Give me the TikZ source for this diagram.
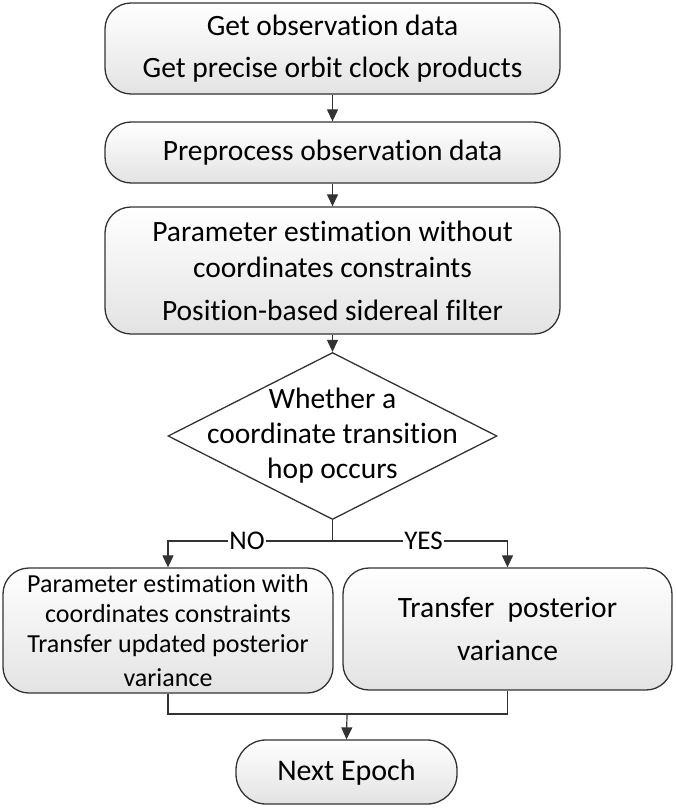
\documentclass[tikz,border=0pt]{standalone}
\usepackage{fontspec}
\setmainfont{Carlito}[Ligatures={NoCommon}]
\usetikzlibrary{shapes.geometric,arrows.meta}
\begin{document}
\begin{tikzpicture}[x=1pt,y=-1pt,
  box/.style={draw=black!80, line width=1.3pt, rounded corners=26pt, top color=white, bottom color=black!11,
    align=center, inner sep=0pt, font=\fontsize{29.5}{36}\selectfont},
  ln/.style={draw=black!80, line width=1.2pt},
  arr/.style={ln, -{Triangle[length=12pt,width=11pt]}},
  lab/.style={fill=white, inner sep=1pt, font=\fontsize{27}{30}\selectfont}]
\useasboundingbox (0,0) rectangle (675,811);
\node[box, minimum width=455pt, minimum height=91pt] (b1) at (332.5,48.5)
  {Get observation data\\[6pt]Get precise orbit clock products};
\node[box, minimum width=455pt, minimum height=61pt] (b2) at (332.5,152.5)
  {Preprocess observation data};
\node[box, minimum width=455pt, minimum height=127pt] (b3) at (332.5,270.5)
  {Parameter estimation without\\coordinates constraints\\[7pt]Position-based sidereal filter};
\node[draw=black!80, line width=1.3pt, fill=white, diamond, inner sep=0pt,
  minimum width=329pt, minimum height=167pt] (dec) at (332.5,436) {};
\node[align=center, font=\fontsize{29.5}{35}\selectfont] (dect) at (dec) {Whether a\\coordinate transition\\hop occurs};
\node[box, minimum width=330pt, minimum height=125pt, font=\fontsize{26}{30}\selectfont] (lb) at (168,630.5)
  {Parameter estimation with\\coordinates constraints\\Transfer updated posterior\\[4pt]variance};
\node[box, minimum width=329pt, minimum height=122pt] (rb) at (507.5,629)
  {Transfer\ \ posterior\\[7pt]variance};
\node[box, rounded corners=30pt, minimum width=221pt, minimum height=64pt, font=\fontsize{30}{36}\selectfont] (nx) at (346.5,772)
  {Next Epoch};
\coordinate (j1) at (332.5,541);
\coordinate (j2) at (347,714);
\draw[arr] (b1) -- (b2);
\draw[arr] (b2) -- (b3);
\draw[arr] (b3) -- (dec.north);
\draw[ln] (dec.south) -- (j1);
\draw[arr] (j1) -| node[lab, pos=0.26] {NO} (lb.north);
\draw[arr] (j1) -| node[lab, pos=0.26] {YES} (rb.north);
\draw[ln] (lb.south) |- (j2);
\draw[ln] (rb.south) |- (j2);
\draw[arr] (j2) -- (nx.north);
\end{tikzpicture}
\end{document}
